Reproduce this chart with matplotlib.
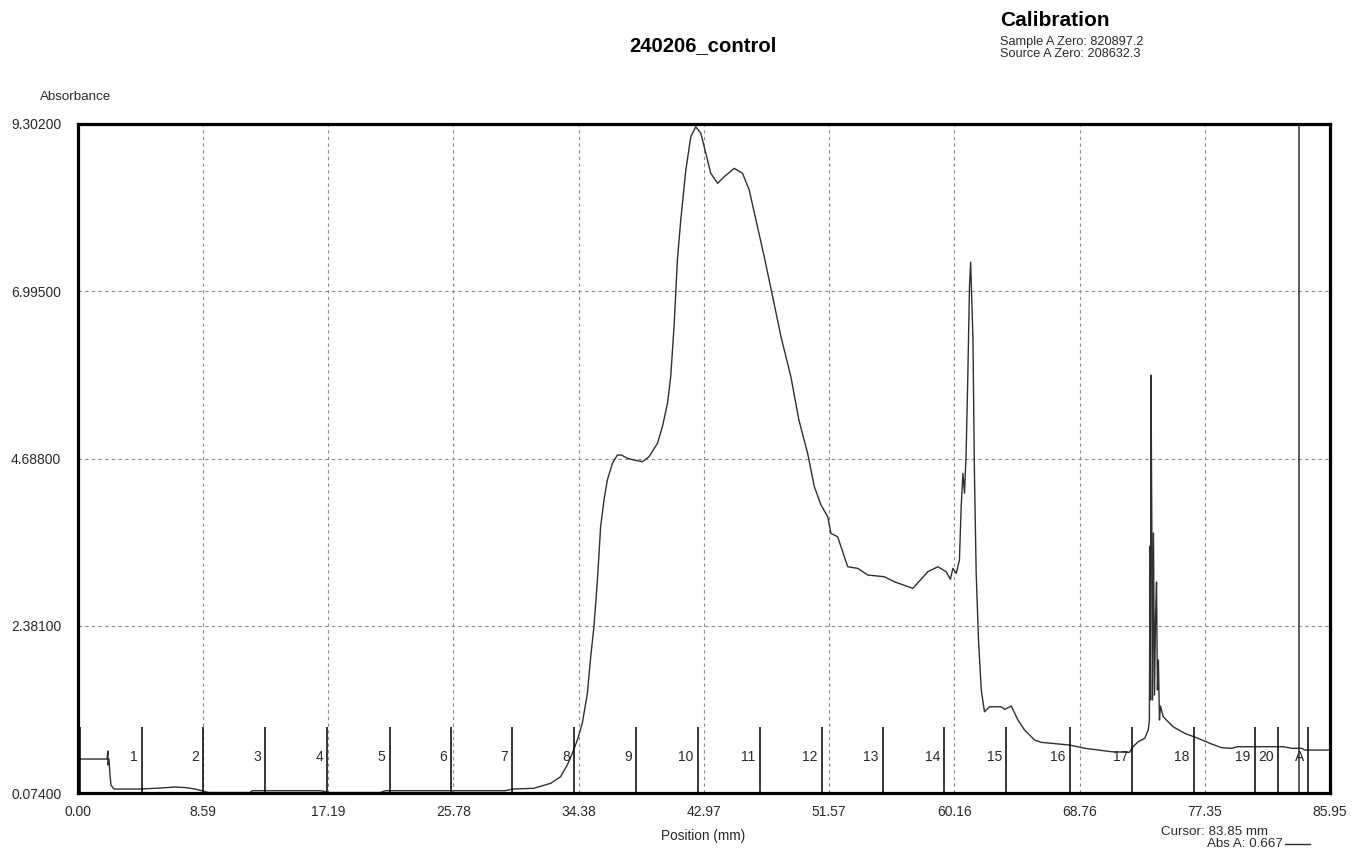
import numpy as np
import matplotlib
matplotlib.use("Agg")
import matplotlib.pyplot as plt
from matplotlib.lines import Line2D

plt.rcParams['font.family'] = ['Liberation Sans', 'DejaVu Sans']

# Scan values (position mm, absorbance)
position_mm = [0.00, 1.99, 2.06, 2.06, 2.13, 2.20, 2.27, 2.47, 4.26, 5.64,
               6.67, 7.36, 8.04, 8.59, 8.94, 11.82, 11.96, 16.64, 16.98, 17.19,
               20.76, 21.10, 25.57, 29.35, 29.83, 31.28, 32.45, 33.13, 33.59, 33.94,
               34.28, 34.62, 34.97, 35.20, 35.42, 35.66, 35.88, 36.11, 36.34, 36.69,
               37.03, 37.31, 37.72, 38.17, 38.75, 39.20, 39.78, 40.12, 40.47, 40.69,
               40.92, 41.15, 41.38, 41.73, 42.07, 42.41, 42.76, 43.10, 43.44, 43.91,
               44.36, 45.05, 45.62, 46.08, 46.65, 47.11, 47.69, 48.26, 48.94, 49.49,
               50.09, 50.55, 51.01, 51.47, 51.69, 52.15, 52.84, 53.53, 54.22, 55.36,
               56.04, 57.31, 58.34, 59.03, 59.60, 59.89, 60.06, 60.29, 60.51, 60.63,
               60.75, 60.86, 60.97, 61.09, 61.20, 61.28, 61.44, 61.54, 61.66, 61.82,
               62.01, 62.23, 62.58, 63.38, 63.61, 64.07, 64.53, 64.98, 65.67, 66.13,
               68.08, 69.11, 70.94, 72.18, 72.43, 72.78, 73.23, 73.47, 73.55, 73.59,
               73.62, 73.66, 73.73, 73.76, 73.83, 73.90, 73.97, 74.04, 74.10, 74.17,
               74.24, 74.31, 74.50, 75.18, 75.98, 76.90, 77.70, 78.50, 79.19, 79.60,
               82.76, 83.31, 84.00, 84.21, 85.93]
absorbance = [0.543, 0.543, 0.653, 0.460, 0.543, 0.322, 0.184, 0.129, 0.129, 0.143,
              0.157, 0.150, 0.129, 0.102, 0.081, 0.081, 0.106, 0.106, 0.095, 0.081,
              0.081, 0.106, 0.106, 0.106, 0.129, 0.139, 0.208, 0.299, 0.460, 0.622,
              0.805, 1.035, 1.449, 1.954, 2.368, 3.012, 3.747, 4.115, 4.391, 4.622,
              4.736, 4.736, 4.690, 4.667, 4.644, 4.712, 4.897, 5.126, 5.449, 5.816,
              6.506, 7.426, 7.978, 8.667, 9.126, 9.264, 9.173, 8.897, 8.621, 8.484,
              8.575, 8.690, 8.622, 8.391, 7.885, 7.471, 6.919, 6.368, 5.816, 5.219,
              4.759, 4.299, 4.046, 3.885, 3.656, 3.609, 3.195, 3.173, 3.081, 3.057,
              2.988, 2.897, 3.126, 3.195, 3.126, 3.022, 3.173, 3.104, 3.288, 4.023,
              4.484, 4.208, 4.759, 5.863, 7.057, 7.398, 6.322, 4.484, 3.104, 2.184,
              1.495, 1.195, 1.264, 1.264, 1.228, 1.274, 1.081, 0.943, 0.805, 0.773,
              0.736, 0.691, 0.644, 0.635, 0.713, 0.782, 0.829, 0.943, 1.081, 3.481,
              1.357, 5.839, 3.288, 1.357, 3.660, 1.426, 2.460, 2.984, 1.495, 1.908,
              1.081, 1.274, 1.126, 0.988, 0.897, 0.828, 0.760, 0.699, 0.691, 0.713,
              0.713, 0.691, 0.691, 0.667, 0.667]

# fraction markers along the lane
fraction_mm = [0.14, 4.38, 8.61, 12.85, 17.10, 21.40, 25.62, 29.81, 34.05, 38.29,
               42.53, 46.81, 51.08, 55.25, 59.48, 63.72, 68.08, 72.37, 76.60, 80.79,
               82.40, 84.46]
fraction_labels = ['', '1', '2', '3', '4', '5', '6', '7', '8', '9', '10', '11', '12',
                   '13', '14', '15', '16', '17', '18', '19', '20', 'A']

x_ticks = [0.00, 8.59, 17.19, 25.78, 34.38, 42.97, 51.57, 60.16, 68.76, 77.35, 85.95]
y_ticks = [0.074, 2.381, 4.688, 6.995, 9.302]

cursor_mm = 83.85
cursor_abs = 0.667

fig = plt.figure(figsize=(13.58, 8.52), dpi=100)
ax = fig.add_axes([0.0574, 0.0692, 0.9220, 0.7853])

ax.plot(position_mm, absorbance, color='#303030', lw=1.0)

ax.set_xlim(x_ticks[0], x_ticks[-1])
ax.set_ylim(y_ticks[0], y_ticks[-1])
ax.set_xticks(x_ticks)
ax.set_yticks(y_ticks)
ax.set_xticklabels(['%.2f' % v for v in x_ticks])
ax.set_yticklabels(['%.5f' % v for v in y_ticks])
ax.tick_params(axis='both', length=0, labelsize=10, labelcolor='#2a2a2a')
ax.tick_params(axis='x', pad=8.5)
ax.tick_params(axis='y', pad=12)
ax.grid(True, color='#8c8c8c', linestyle=(0, (3, 3)), lw=0.8)
for s in ax.spines.values():
    s.set_linewidth(2.3)
    s.set_color('black')

# fraction lines + numbers
ax.vlines(fraction_mm, 0, 0.0987, transform=ax.get_xaxis_transform(), color='black', lw=1.1)
for f, lab in zip(fraction_mm, fraction_labels):
    ax.annotate(lab, xy=(f, 0.054), xycoords=ax.get_xaxis_transform(),
                xytext=(-3, 0), textcoords='offset points', ha='right', va='center',
                fontsize=10, color='#2a2a2a')

# cursor
ax.axvline(cursor_mm, color='#303030', lw=1.1)

fig.text(0.5177, 0.946, '240206_control', ha='center', va='center', fontsize=14.6, fontweight='bold')
fig.text(0.7364, 0.9765, 'Calibration', ha='left', va='center', fontsize=15, fontweight='bold')
fig.text(0.7364, 0.9507, 'Sample A Zero: 820897.2', ha='left', va='center', fontsize=9.2, color='#2a2a2a')
fig.text(0.7364, 0.9366, 'Source A Zero: 208632.3', ha='left', va='center', fontsize=9.2, color='#2a2a2a')
fig.text(0.056, 0.886, 'Absorbance', ha='center', va='center', fontsize=9.6, color='#2a2a2a')
fig.text(0.5177, 0.0188, 'Position (mm)', ha='center', va='center', fontsize=9.8, color='#2a2a2a')
fig.text(0.8550, 0.0235, 'Cursor: %.2f mm' % cursor_mm, ha='left', va='center', fontsize=9.6, color='#2a2a2a')
fig.text(0.8888, 0.0094, 'Abs A: %.3f' % cursor_abs, ha='left', va='center', fontsize=9.6, color='#2a2a2a')
fig.add_artist(Line2D([0.9462, 0.9647], [0.0094, 0.0094], transform=fig.transFigure, color='#303030', lw=1.0))

fig.savefig('out.png', dpi=100)
